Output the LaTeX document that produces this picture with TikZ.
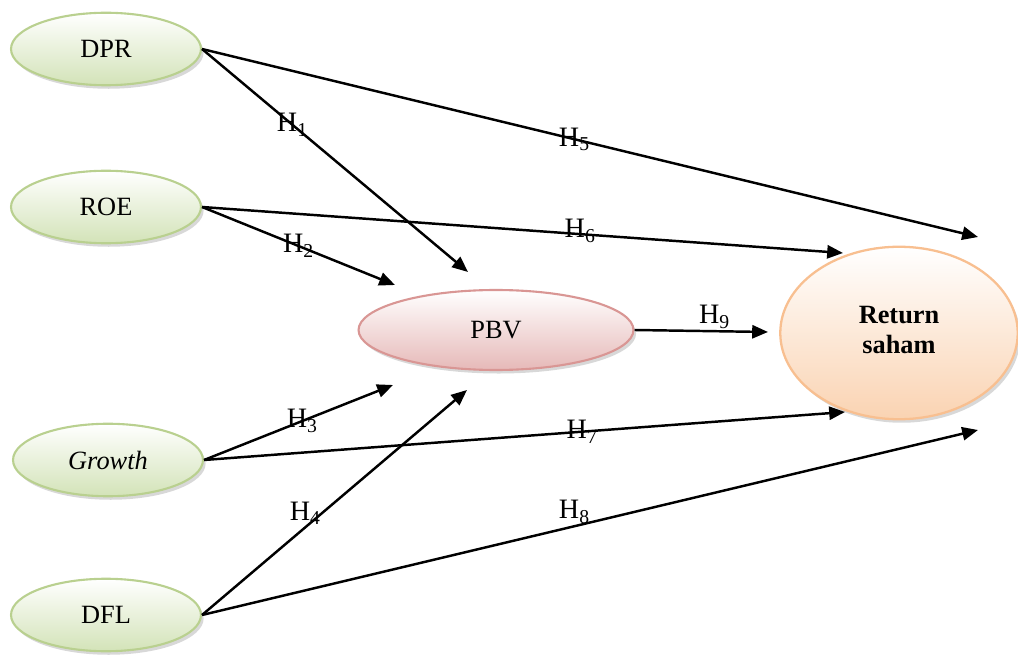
\documentclass[tikz,border=0pt]{standalone}
\usepackage{fontspec}
\setmainfont{Liberation Serif}
\usetikzlibrary{arrows.meta,shapes.geometric,shadows}

\definecolor{varline}{HTML}{B9D08F}
\definecolor{varfill}{HTML}{D3E3B8}
\definecolor{pbvline}{HTML}{D99694}
\definecolor{pbvfill}{HTML}{E6B9B8}
\definecolor{retline}{HTML}{F8BF90}
\definecolor{retfill}{HTML}{FAD3B2}

\tikzset{
  shadowed/.style={drop shadow={shadow xshift=1.5pt,shadow yshift=-2pt,fill=black!30}},
  varbox/.style={ellipse,draw=varline,line width=1.2pt,top color=white,bottom color=varfill,
    minimum width=3.8cm,minimum height=1.45cm,shadowed,font=\fontsize{15}{17}\selectfont},
  pbvbox/.style={ellipse,draw=pbvline,line width=1.2pt,top color=white,bottom color=pbvfill,
    minimum width=5.5cm,minimum height=1.6cm,shadowed,font=\fontsize{15}{17}\selectfont},
  retbox/.style={ellipse,draw=retline,line width=1.3pt,top color=white,bottom color=retfill,
    minimum width=4.75cm,minimum height=3.45cm,shadowed,align=center,
    font=\fontsize{15}{17}\selectfont\bfseries},
  link/.style={-{Triangle[length=9pt,width=7.5pt]},line width=1.4pt},
  hlabel/.style={inner sep=0pt,font=\fontsize{16}{18}\selectfont}
}

\begin{document}
\begin{tikzpicture}[x=0.02cm,y=-0.02cm]
  \useasboundingbox (0,0) rectangle (1018,662);

  % The variables
  \node[varbox] (dpr) at (106,49) {DPR};
  \node[varbox] (roe) at (106,207) {ROE};
  \node[varbox] (growth) at (108,460) {\itshape Growth};
  \node[varbox] (dfl) at (106,615) {DFL};
  \node[pbvbox] (pbv) at (496,330) {PBV};
  \node[retbox] (ret) at (899,333) {\raisebox{4pt}{Return}\\\raisebox{4pt}{saham}};

  % Free ends of the arrows
  \coordinate (endH1) at (468,272);
  \coordinate (endH2) at (395,285);
  \coordinate (endH3) at (393,385);
  \coordinate (endH4) at (467,390);
  \coordinate (endH5) at (978,237);
  \coordinate (endH6) at (843,253);
  \coordinate (endH7) at (845,412);
  \coordinate (endH8) at (978,430);
  \coordinate (endH9) at (768,332);

  % Arrows to PBV
  \draw[link] (dpr.east) -- node[hlabel,pos=.34] (h1) {H\textsubscript{1}} (endH1);
  \draw[link] (roe.east) -- node[hlabel,pos=.5] (h2) {H\textsubscript{2}} (endH2);
  \draw[link] (growth.east) -- node[hlabel,pos=.52] (h3) {H\textsubscript{3}} (endH3);
  \draw[link] (dfl.east) -- node[hlabel,pos=.39,yshift=8pt] (h4) {H\textsubscript{4}} (endH4);

  % Arrows to Return saham
  \draw[link] (dpr.east) -- node[hlabel,pos=.48] (h5) {H\textsubscript{5}} (endH5);
  \draw[link] (roe.east) -- node[hlabel,pos=.59,yshift=2pt] (h6) {H\textsubscript{6}} (endH6);
  \draw[link] (growth.east) -- node[hlabel,pos=.59] (h7) {H\textsubscript{7}} (endH7);
  \draw[link] (dfl.east) -- node[hlabel,pos=.48,yshift=8pt] (h8) {H\textsubscript{8}} (endH8);
  \draw[link] (pbv.east) -- node[hlabel,pos=.6,yshift=8pt] (h9) {H\textsubscript{9}} (endH9);
\end{tikzpicture}
\end{document}
